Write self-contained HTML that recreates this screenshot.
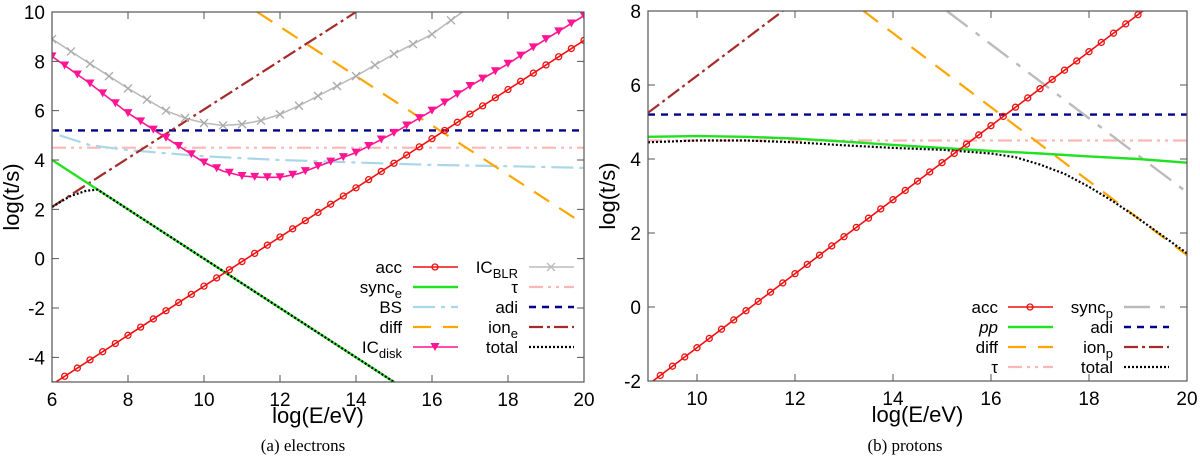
<!DOCTYPE html>
<html><head><meta charset="utf-8"><style>
html,body{margin:0;padding:0;background:#fff;width:1200px;height:461px;overflow:hidden}
svg{display:block}
text{font-family:"Liberation Sans",sans-serif}
text.cap{font-family:"Liberation Serif",serif}
</style></head><body>
<svg id="fig" width="1200" height="461" xmlns="http://www.w3.org/2000/svg"></svg>
<script>
// ---- Panel (a) electrons data ----
const aAccX=[6,20], aAccY=[-5.1,8.85];
const aSyncX=[6,15.1], aSyncY=[4,-5.1];
const aIonX=[6,14], aIonY=[2.1,10];
const aDiffX=[11.4,20], aDiffY=[10,1.4];
const aAdi=5.2, aTau=4.5;
const aBSX=[6.2,7,8,10,12,14,16,18,20], aBSY=[5.0,4.6,4.4,4.15,4.0,3.9,3.8,3.75,3.68];
const aBLRX=[6,7,8,9,9.5,10,10.5,11,11.5,12,12.5,13,14,15,16,16.8];
const aBLRY=[8.9,7.9,6.9,6.0,5.7,5.5,5.4,5.45,5.6,5.85,6.2,6.6,7.4,8.3,9.1,10];
const aDiskX=[6,7,8,9,9.5,10,10.5,11,11.5,12,12.5,13,14,15,16,17,18,19,20];
const aDiskY=[8.2,7.1,5.9,4.9,4.4,3.9,3.55,3.35,3.3,3.3,3.45,3.75,4.3,5.1,6.0,7.0,7.9,8.9,9.85];
const aTotX=[6,6.5,6.9,7.2,15.1], aTotY=[2.1,2.55,2.75,2.8,-5.1];
const aXTicks=[6,8,10,12,14,16,18,20], aYTicks=[-4,-2,0,2,4,6,8,10];
// ---- Panel (b) protons data ----
const bAccX=[9,20], bAccY=[-2.1,8.9];
const bIonX=[9,11.75], bIonY=[5.25,8];
const bDiffX=[13.4,20], bDiffY=[8,1.4];
const bSyncX=[15.1,20], bSyncY=[8,3.1];
const bAdi=5.2, bTau=4.5;
const bPPX=[9,10,11,12,13,14,15,16,17,18,19,20];
const bPPY=[4.6,4.62,4.6,4.55,4.47,4.38,4.3,4.22,4.15,4.07,4.0,3.9];
const bTotX=[9,10,11,12,13,14,15,16,16.5,17,17.5,18,18.5,19,20];
const bTotY=[4.45,4.5,4.5,4.45,4.37,4.3,4.25,4.15,4.05,3.85,3.6,3.25,2.85,2.4,1.45];
const bXTicks=[10,12,14,16,18,20], bYTicks=[-2,0,2,4,6,8];

const NS="http://www.w3.org/2000/svg";
const fig=document.getElementById('fig');
function mk(tag,attrs,parent){const e=document.createElementNS(NS,tag);for(const k in attrs)e.setAttribute(k,attrs[k]);(parent||fig).appendChild(e);return e;}

function panel(id,L,R,T,B,x0,x1,y0,y1){
  const sx=v=>L+(v-x0)/(x1-x0)*(R-L), sy=v=>B-(v-y0)/(y1-y0)*(B-T);
  const g=mk('g',{});
  
  
  const cp=mk('clipPath',{id:id+'clip'},g);mk('rect',{x:L,y:T,width:R-L,height:B-T},cp);
  const plot=mk('g',{'clip-path':'url(#'+id+'clip)'},g);
  
  
  return {g,plot,sx,sy,L,R,T,B};
}
function line(P,xs,ys,style,name){
  const d=xs.map((x,i)=>(i?'L':'M')+P.sx(x).toFixed(1)+' '+P.sy(ys[i]).toFixed(1)).join(' ');
  const p=mk('path',Object.assign({d:d,fill:'none'},style),P.plot);
  
  
  return p;
}
function interp(xs,ys,x){for(let i=0;i<xs.length-1;i++){if(x>=xs[i]&&x<=xs[i+1]){return ys[i]+(ys[i+1]-ys[i])*(x-xs[i])/(xs[i+1]-xs[i]);}}return null;}
function markers(P,xs,ys,step,kind,color,name){
  for(let x=xs[0];x<=xs[xs.length-1]+1e-9;x+=step){
    const y=interp(xs,ys,Math.min(x,xs[xs.length-1]));const cx=P.sx(x),cy=P.sy(y);
    let m;
    if(kind==='circle')m=mk('circle',{cx:cx,cy:cy,r:3,fill:'none',stroke:color,'stroke-width':1.3},P.plot);
    else if(kind==='x')m=mk('path',{d:`M${cx-4} ${cy-4}L${cx+4} ${cy+4}M${cx-4} ${cy+4}L${cx+4} ${cy-4}`,stroke:color,'stroke-width':1.3},P.plot);
    else m=mk('path',{d:`M${cx-4.5} ${cy-4}L${cx+4.5} ${cy-4}L${cx} ${cy+4}Z`,fill:color},P.plot);
    
    
  }
}
function axes(P,xt,yt,xlab,cap,capx){
  const f=mk('rect',{x:P.L,y:P.T,width:P.R-P.L,height:P.B-P.T,fill:'none',stroke:'#555','stroke-width':1.2},P.g);
  
  xt.forEach(v=>{const x=P.sx(v);
    mk('path',{d:`M${x} ${P.B}v-7M${x} ${P.T}v7`,stroke:'#555'},P.g);
    const t=mk('text',{x:x,y:P.B+24,'text-anchor':'middle','font-size':19},P.g);t.textContent=v;
    });
  yt.forEach(v=>{const y=P.sy(v);
    mk('path',{d:`M${P.L} ${y}h7M${P.R} ${y}h-7`,stroke:'#555'},P.g);
    const t=mk('text',{x:P.L-7,y:y+7,'text-anchor':'end','font-size':19},P.g);t.textContent=v;
    });
  const xl=mk('text',{x:(P.L+P.R)/2,y:P.B+41,'text-anchor':'middle','font-size':22},P.g);xl.textContent=xlab;
  
  const yl=mk('text',{x:0,y:0,'text-anchor':'middle','font-size':22,transform:`translate(${P.L-33},${(P.T+P.B)/2}) rotate(-90)`},P.g);yl.textContent='log(t/s)';
  
  const c=mk('text',{x:capx,y:451,'text-anchor':'middle','font-size':17,'class':'cap'},P.g);c.textContent=cap;
  
}
function legend(P,items){
  items.forEach(it=>{
    const g=mk('g',{},P.g);
    
    
    const t=mk('text',{x:it.tx,y:it.y+6,'text-anchor':'end','font-size':17},g);
    t.innerHTML=it.label;
    mk('path',Object.assign({d:`M${it.lx} ${it.y}H${it.lx+45}`,fill:'none'},it.style),g);
    if(it.mk){const cx=it.lx+22,cy=it.y;
      if(it.mk==='circle')mk('circle',{cx:cx,cy:cy,r:3,fill:'none',stroke:it.style.stroke,'stroke-width':1.3},g);
      if(it.mk==='x')mk('path',{d:`M${cx-4} ${cy-4}L${cx+4} ${cy+4}M${cx-4} ${cy+4}L${cx+4} ${cy-4}`,stroke:it.style.stroke,'stroke-width':1.3},g);
      if(it.mk==='tri')mk('path',{d:`M${cx-4.5} ${cy-4}L${cx+4.5} ${cy-4}L${cx} ${cy+4}Z`,fill:it.style.stroke},g);}
  });
}
const S={
 acc:{stroke:'#f01010','stroke-width':1.6},
 sync:{stroke:'#22e022','stroke-width':2.4},
 bs:{stroke:'#a8d8e8','stroke-width':2.2,'stroke-dasharray':'22 6 4 6'},
 diff:{stroke:'#ffa500','stroke-width':2.2,'stroke-dasharray':'18 12'},
 disk:{stroke:'#ff1493','stroke-width':1.6},
 blr:{stroke:'#bbbbbb','stroke-width':1.6},
 tau:{stroke:'#ffb6b6','stroke-width':2.2,'stroke-dasharray':'14 5 3 5 3 5'},
 adi:{stroke:'#00008b','stroke-width':2.4,'stroke-dasharray':'7 6'},
 ion:{stroke:'#a52a2a','stroke-width':2.2,'stroke-dasharray':'14 4 3 4'},
 tot:{stroke:'#000','stroke-width':2.2,'stroke-dasharray':'2 2'},
 syncp:{stroke:'#bbbbbb','stroke-width':2.4,'stroke-dasharray':'26 10 5 10'}
};
// Panel a
const A=panel('electrons',52,584,12,382,6,20,-5,10);
line(A,[6,20],[aTau,aTau],S.tau,'tau-line');
line(A,[6,20],[aAdi,aAdi],S.adi,'adi-line');
line(A,aBSX,aBSY,S.bs,'bs-line');
line(A,aDiffX,aDiffY,S.diff,'diff-line');
line(A,aIonX,aIonY,S.ion,'ion-e-line');
line(A,aBLRX,aBLRY,S.blr,'ic-blr-line');markers(A,aBLRX,aBLRY,0.5,'x','#aaaaaa','ic-blr-marker');
line(A,aDiskX,aDiskY,S.disk,'ic-disk-line');markers(A,aDiskX,aDiskY,1/3,'tri','#ff1493','ic-disk-marker');
line(A,aSyncX,aSyncY,S.sync,'sync-e-line');
line(A,aTotX,aTotY,S.tot,'total-line');
line(A,aAccX,aAccY,S.acc,'acc-line');markers(A,aAccX,aAccY,1/3,'circle','#f01010','acc-marker');
axes(A,aXTicks,aYTicks,'log(E/eV)','(a)  electrons',303);
const lx1=413,tx1=402,lx2=529,tx2=518;
legend(A,[
 {label:'acc',tx:tx1,lx:lx1,y:267,style:S.acc,mk:'circle'},
 {label:'sync<tspan font-size="13" dy="5">e</tspan>',tx:tx1,lx:lx1,y:287,style:S.sync},
 {label:'BS',tx:tx1,lx:lx1,y:307,style:S.bs},
 {label:'diff',tx:tx1,lx:lx1,y:327,style:S.diff},
 {label:'IC<tspan font-size="13" dy="5">disk</tspan>',tx:tx1,lx:lx1,y:347,style:S.disk,mk:'tri'},
 {label:'IC<tspan font-size="13" dy="5">BLR</tspan>',tx:tx2,lx:lx2,y:267,style:S.blr,mk:'x'},
 {label:'τ',tx:tx2,lx:lx2,y:287,style:S.tau},
 {label:'adi',tx:tx2,lx:lx2,y:307,style:S.adi},
 {label:'ion<tspan font-size="13" dy="5">e</tspan>',tx:tx2,lx:lx2,y:327,style:S.ion},
 {label:'total',tx:tx2,lx:lx2,y:347,style:S.tot}
]);
// Panel b
const B=panel('protons',648,1187,11,381,9,20,-2,8);
line(B,[9,20],[bTau,bTau],S.tau,'tau-line');
line(B,[9,20],[bAdi,bAdi],S.adi,'adi-line');
line(B,bSyncX,bSyncY,S.syncp,'sync-p-line');
line(B,bDiffX,bDiffY,S.diff,'diff-line');
line(B,bIonX,bIonY,S.ion,'ion-p-line');
line(B,bPPX,bPPY,S.sync,'pp-line');
line(B,bTotX,bTotY,S.tot,'total-line');
line(B,bAccX,bAccY,S.acc,'acc-line');markers(B,bAccX,bAccY,0.25,'circle','#f01010','acc-marker');
axes(B,bXTicks,bYTicks,'log(E/eV)','(b)  protons',905);
const lx3=1008,tx3=998,lx4=1124,tx4=1113;
legend(B,[
 {label:'acc',tx:tx3,lx:lx3,y:307,style:S.acc,mk:'circle'},
 {label:'<tspan font-style="italic">pp</tspan>',tx:tx3,lx:lx3,y:327,style:S.sync},
 {label:'diff',tx:tx3,lx:lx3,y:347,style:S.diff},
 {label:'τ',tx:tx3,lx:lx3,y:367,style:S.tau},
 {label:'sync<tspan font-size="13" dy="5">p</tspan>',tx:tx4,lx:lx4,y:307,style:S.syncp},
 {label:'adi',tx:tx4,lx:lx4,y:327,style:S.adi},
 {label:'ion<tspan font-size="13" dy="5">p</tspan>',tx:tx4,lx:lx4,y:347,style:S.ion},
 {label:'total',tx:tx4,lx:lx4,y:367,style:S.tot}
]);
</script>
</body></html>
